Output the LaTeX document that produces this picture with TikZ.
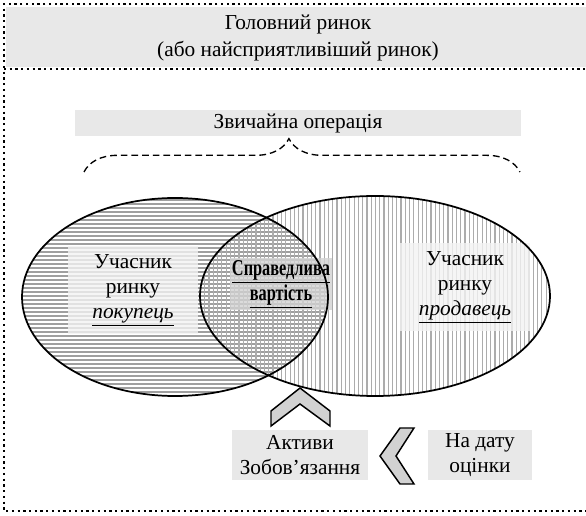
\documentclass[tikz,border=0pt]{standalone}
\usepackage{fontspec}
\setmainfont{Liberation Serif}
\newfontfamily\narrowbold[FakeStretch=0.72]{Liberation Serif Bold}
\usetikzlibrary{patterns.meta,decorations.pathreplacing}

\begin{document}
\begin{tikzpicture}[x=0.75pt,y=-0.75pt,
    font=\fontsize{16}{19}\selectfont,
    band/.style = {fill=gray!18, inner sep=0pt, align=center},
    member/.style = {fill=gray!10, fill opacity=0.8, text opacity=1, inner sep=0pt, align=center,
                     minimum width=98pt, minimum height=66pt},
    chev/.style = {draw, fill=gray!35, line width=1.1pt, line join=miter},
    frame/.style = {line width=1.7pt, dash pattern=on 1.7pt off 2.6pt}]
  \useasboundingbox (0,0) rectangle (586,516);

  % outer frame and main market band
  \fill[gray!18] (6,7) rectangle (590,67);
  \draw[frame] (590,4) -- (4,4) -- (4,511) -- (590,511);
  \draw[frame] (4,69) -- (590,69);
  \node[align=center, font=\fontsize{16}{20}\selectfont] (market) at (298,38)
    {Головний ринок\\(або найсприятливіший ринок)};

  % orderly transaction
  \node[band, minimum width=335pt, minimum height=19pt] (deal) at (298,123) {Звичайна операція};
  \coordinate (brL) at (84,172);
  \coordinate (brR) at (520,172);
  \draw[dashed, line width=1pt, dash pattern=on 5pt off 3pt,
        decorate, decoration={brace, amplitude=25pt, aspect=0.47}] (brL) -- (brR);

  % participants
  \fill[pattern={Lines[angle=0, distance=3pt, line width=1pt]}, pattern color=gray!75]
    (175,297) ellipse [x radius=153, y radius=99];
  \fill[pattern={Lines[angle=90, distance=3.2pt, line width=0.9pt]}, pattern color=gray!65]
    (375,296) ellipse [x radius=175, y radius=100];

  \node[member] (buyer) at (133,290) {Учасник\\ринку\\\underline{\textit{покупець}}};
  \node[member] (seller) at (465,287) {Учасник\\ринку\\\underline{\textit{продавець}}};
  \node[member, fill=gray!35, minimum width=76pt, minimum height=39pt,
        font=\fontsize{17}{19}\narrowbold] (fv) at (281,284)
    {\underline{Справедлива}\\\underline{вартість}};

  \draw[line width=1.3pt] (175,297) ellipse [x radius=153, y radius=99];
  \draw[line width=1.3pt] (375,296) ellipse [x radius=175, y radius=100];

  % asset or liability, measurement date
  \node[band, minimum width=102pt, minimum height=37pt] (item) at (300,455) {Активи\\Зобов’язання};
  \node[band, minimum width=78pt, minimum height=37pt] (date) at (480,455) {На дату\\оцінки};
  \draw[chev] (300,388) -- (330,411) -- (330,426) -- (300,404) -- (271,426) -- (271,411) -- cycle;
  \draw[chev] (380,456) -- (400,428) -- (414,428) -- (396,456) -- (414,484) -- (400,484) -- cycle;
\end{tikzpicture}
\end{document}
